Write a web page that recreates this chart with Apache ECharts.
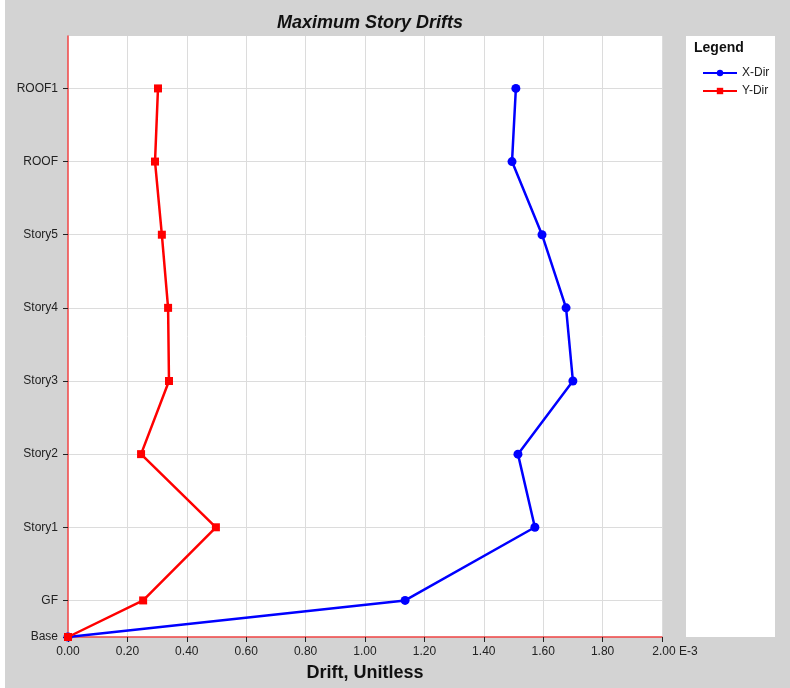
<!DOCTYPE html>
<html>
<head>
<meta charset="utf-8">
<title>Maximum Story Drifts</title>
<script src="https://cdn.jsdelivr.net/npm/echarts@6/dist/echarts.min.js"></script>
<style>
  html, body { margin: 0; padding: 0; background: #ffffff; }
  #chart { width: 790px; height: 688px; }
</style>
</head>
<body>
<div id="chart"></div>
<script>
// Story levels (names and elevations used for the vertical axis)
const levelNames = ['Base', 'GF', 'Story1', 'Story2', 'Story3', 'Story4', 'Story5', 'ROOF', 'ROOF1'];
const levelHeights = [0, 1.5, 4.5, 7.5, 10.5, 13.5, 16.5, 19.5, 22.5];

// Maximum drift per level, in units of 1E-3
const xDirDrift = [0, 1.135, 1.572, 1.515, 1.700, 1.677, 1.596, 1.495, 1.508];
const yDirDrift = [0, 0.253, 0.498, 0.246, 0.340, 0.337, 0.316, 0.293, 0.303];

// Horizontal axis ticks
const driftTicks = [0, 0.2, 0.4, 0.6, 0.8, 1.0, 1.2, 1.4, 1.6, 1.8, 2.0];

const pairs = (drift) => drift.map((d, i) => [d, levelHeights[i]]);
const FONT = 'Liberation Sans, Arial, sans-serif';

const chart = echarts.init(document.getElementById('chart'), null, { renderer: 'canvas' });

const option = {
  backgroundColor: '#ffffff',
  animation: false,
  textStyle: { fontFamily: FONT },
  graphic: [
    { type: 'rect', z: -10, silent: true, shape: { x: 5, y: 0, width: 785, height: 688 }, style: { fill: '#d3d3d3' } },
    { type: 'rect', z: -9, silent: true, shape: { x: 68, y: 36, width: 594, height: 601 }, style: { fill: '#ffffff' } },
    { type: 'rect', z: -9, silent: true, shape: { x: 686, y: 36, width: 89, height: 601 }, style: { fill: '#ffffff' } },
    { type: 'text', left: 694, top: 41, style: { text: 'Legend', fill: '#111111', font: 'bold 14px ' + FONT } }
  ],
  title: {
    text: 'Maximum Story Drifts',
    left: 365,
    top: 9,
    textAlign: 'center',
    textStyle: { fontSize: 18, fontWeight: 'bold', fontStyle: 'italic', color: '#111111', fontFamily: FONT }
  },
  legend: {
    orient: 'vertical',
    left: 697,
    top: 62,
    itemWidth: 34,
    itemHeight: 8,
    itemGap: 6,
    textStyle: { fontSize: 12, color: '#222222' },
    data: ['X-Dir', 'Y-Dir']
  },
  grid: { left: 68, right: 128, top: 36, bottom: 51, containLabel: false },
  xAxis: {
    type: 'value',
    min: 0,
    max: 2,
    interval: 0.2,
    name: 'Drift, Unitless',
    nameLocation: 'middle',
    nameGap: 27,
    nameTextStyle: { fontSize: 18, fontWeight: 'bold', color: '#111111' },
    axisLine: { show: true, onZero: false, lineStyle: { color: '#f04444', width: 1.5 } },
    axisTick: { show: true, length: 5, lineStyle: { color: '#222222' } },
    axisLabel: {
      fontSize: 12,
      color: '#222222',
      margin: 9,
      formatter: (v) => Math.abs(v - 2) < 1e-9 ? '{pad|}{v|2.00}{e| E-3}' : v.toFixed(2),
      rich: {
        pad: { width: 26, fontSize: 12 },
        v: { fontSize: 12, color: '#222222' },
        e: { fontSize: 12, color: '#222222' }
      }
    },
    splitLine: { show: true, showMinLine: false, lineStyle: { color: '#dcdcdc', width: 1 } }
  },
  yAxis: {
    type: 'value',
    min: 0,
    max: 24.65,
    axisLine: { show: true, onZero: false, lineStyle: { color: '#f04444', width: 1.5 } },
    axisTick: { show: true, length: 5, customValues: levelHeights, lineStyle: { color: '#222222' } },
    axisLabel: {
      fontSize: 12,
      color: '#222222',
      margin: 10,
      customValues: levelHeights,
      formatter: (v) => {
        const i = levelHeights.findIndex((h) => Math.abs(h - v) < 1e-6);
        return i >= 0 ? levelNames[i] : '';
      }
    },
    splitLine: { show: true, showMinLine: false, customValues: levelHeights.slice(1), lineStyle: { color: '#dcdcdc', width: 1 } }
  },
  series: [
    {
      name: 'X-Dir',
      type: 'line',
      data: pairs(xDirDrift),
      color: '#0000ff',
      symbol: 'circle',
      symbolSize: 9,
      lineStyle: { width: 2.5, color: '#0000ff' },
      itemStyle: { color: '#0000ff' },
      z: 3
    },
    {
      name: 'Y-Dir',
      type: 'line',
      data: pairs(yDirDrift),
      color: '#ff0000',
      symbol: 'rect',
      symbolSize: 8,
      lineStyle: { width: 2.5, color: '#ff0000' },
      itemStyle: { color: '#ff0000' },
      z: 4
    }
  ]
};

chart.setOption(option);
</script>
</body>
</html>
